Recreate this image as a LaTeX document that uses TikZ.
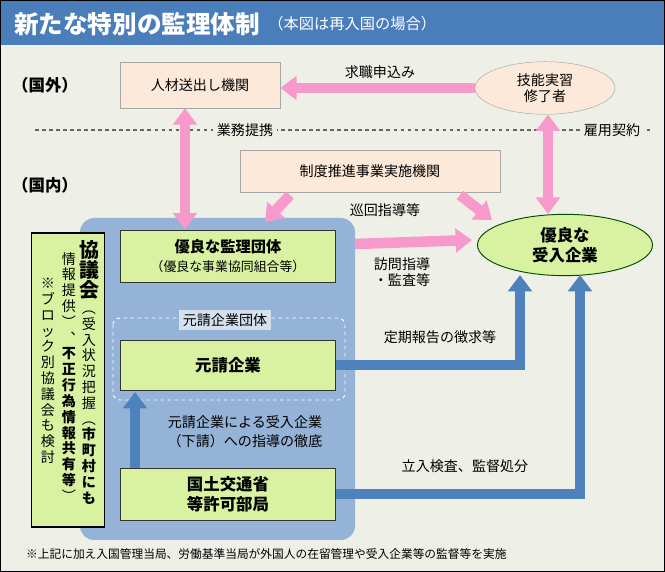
\documentclass[tikz,border=0pt]{standalone}
\usepackage{fontspec}
\setmainfont{Noto Sans CJK JP}
\usetikzlibrary{positioning,arrows.meta,shapes.geometric}
\definecolor{bgc}{HTML}{EEF0E8}
\definecolor{peach}{HTML}{FDE9D9}
\definecolor{pinkar}{HTML}{F79ACB}
\definecolor{bluear}{HTML}{4F81BD}
\definecolor{region}{HTML}{95B3D7}
\definecolor{lgreen}{HTML}{D8F2A2}
\definecolor{titlec}{HTML}{4A7EBB}
\newcommand\bigk[1]{{\fontsize{17}{21}\selectfont\bfseries #1}}
\tikzset{
  ob/.style={rectangle, draw=gray!70, fill=peach, text centered, font=\fontsize{12}{14}\selectfont},
  gb/.style={rectangle, draw=black!80, thick, fill=lgreen, text centered, align=center},
  pk/.style={line width=9pt, draw=pinkar, -{Triangle[length=14pt,width=20pt]}},
  pkk/.style={line width=9pt, draw=pinkar, {Triangle[length=14pt,width=20pt]}-{Triangle[length=14pt,width=20pt]}},
  bl/.style={line width=9pt, draw=bluear, -{Triangle[length=14pt,width=20pt]}},
  lbl/.style={font=\fontsize{12}{14}\selectfont, align=center},
  vc/.style={anchor=north, align=center, inner sep=0pt, font=\fontsize{12}{13.5}\selectfont}
}
\begin{document}
\begin{tikzpicture}[x=0.03cm,y=-0.03cm]
  \useasboundingbox (0,0) rectangle (665,572);
  \fill[bgc] (0,0) rectangle (665,572);
  \fill[titlec] (0,0) rectangle (665,45);
  \node[anchor=west, text=white, font=\fontsize{21}{24}\selectfont\bfseries] (title) at (10,24) {新たな特別の監理体制};
  \node[anchor=west, text=white, font=\fontsize{13}{15}\selectfont, right=0pt of title] (subtitle) {（本図は再入国の場合）};
  \node[font=\fontsize{14}{16}\selectfont\bfseries] (abroad) at (45,85) {（国外）};
  \node[font=\fontsize{14}{16}\selectfont\bfseries] (domestic) at (45,185) {（国内）};
  %
  \draw[gray!80!black, dashed, line width=1.8pt] (35,130) -- (650,130);
  \node[lbl, fill=bgc] (teikei) at (245,130) {業務提携};
  \node[lbl, fill=bgc] (koyo) at (612,130) {雇用契約};
  %
  \node[ob, minimum width=160*0.03cm, minimum height=46*0.03cm] (sending) at (200,85) {人材送出し機関};
  \node[ellipse, draw=gray!70, fill=peach, minimum width=140*0.03cm, minimum height=52*0.03cm, align=center, font=\fontsize{12}{14}\selectfont] (trainee) at (545,88) {技能実習\\修了者};
  \node[ob, minimum width=260*0.03cm, minimum height=42*0.03cm] (promo) at (370,171) {制度推進事業実施機関};
  %
  \fill[region, rounded corners=12pt] (80,218) rectangle (355,540);
  \node[gb, minimum width=215*0.03cm, minimum height=52*0.03cm, font=\fontsize{13}{16}\selectfont] (kanri) at (228,256) {\textbf{優良な監理団体}\\{\fontsize{11}{13}\selectfont（優良な事業協同組合等）}};
  \node[ellipse, draw=black!70!green, thick, fill=lgreen, minimum width=175*0.03cm, minimum height=60*0.03cm, align=center, font=\fontsize{14}{17}\selectfont\bfseries] (ukeire) at (565,245) {優良な\\受入企業};
  \draw[white, dashed, thick, rounded corners=6pt] (113,318) rectangle (345,400);
  \node[lbl, fill=region!40!white] (dantai) at (225,320) {元請企業団体};
  \node[gb, minimum width=215*0.03cm, minimum height=50*0.03cm, font=\fontsize{14}{17}\selectfont\bfseries] (motouke) at (228,365) {元請企業};
  \node[gb, minimum width=215*0.03cm, minimum height=52*0.03cm, font=\fontsize{14}{17}\selectfont\bfseries] (mlit) at (228,494) {国土交通省\\等許可部局};
  %
  \draw[pk] (trainee.west) -- (sending.east |- trainee.west);
  \node[lbl] (kyushoku) at (380,72) {求職申込み};
  \draw[pkk] (sending.south -| 185,0) -- (kanri.north -| 185,0);
  \draw[pkk] (trainee.south -| 548,0) -- (ukeire.north -| 548,0);
  \draw[pk] (290,195) -- (265,222);
  \draw[pk] (460,195) -- (492,220);
  \node[lbl] (junkai) at (385,210) {巡回指導等};
  \draw[pk] (355,244) -- (472,240);
  \node[lbl] (homon) at (402,272) {訪問指導\\・監査等};
  %
  \draw[bl] (motouke.east) -- (520,365) -- (520,275);
  \node[lbl] (teiki) at (440,337) {定期報告の徴求等};
  \draw[bl] (mlit.east) -- (580,494) -- (580,275);
  \node[lbl] (tachiiri) at (465,466) {立入検査、監督処分};
  \draw[bl] (135,468) -- (135,392);
  \node[lbl, font=\fontsize{12}{16}\selectfont] (shido) at (245,432) {元請企業による受入企業\\（下請）への指導の徹底};
  %
  \node[rectangle, draw=black, line width=1.5pt, fill=lgreen, minimum width=73*0.03cm, minimum height=294*0.03cm] (kyogikai) at (68,380) {};
  \node[vc] (col1) at (89,240) {\bigk{協}\\\bigk{議}\\\bigk{会}\\︵\\受\\入\\状\\況\\把\\握\\︵\\\textbf{市}\\\textbf{町}\\\textbf{村}\\\textbf{に}\\\textbf{も}};
  \node[vc] (col2) at (69,252) {情\\報\\提\\供\\︶\\︑\\\textbf{不}\\\textbf{正}\\\textbf{行}\\\textbf{為}\\\textbf{情}\\\textbf{報}\\\textbf{共}\\\textbf{有}\\\textbf{等}\\︶};
  \node[vc] (col3) at (48,278) {※\\ブ\\ロ\\ッ\\ク\\別\\協\\議\\会\\も\\検\\討};
  %
  \node[anchor=west, font=\fontsize{10}{12}\selectfont] (note) at (22,554) {※上記に加え入国管理当局、労働基準当局が外国人の在留管理や受入企業等の監督等を実施};
  \draw[black, thick] (0.5,0.5) rectangle (664.5,571.5);
\end{tikzpicture}
\end{document}
